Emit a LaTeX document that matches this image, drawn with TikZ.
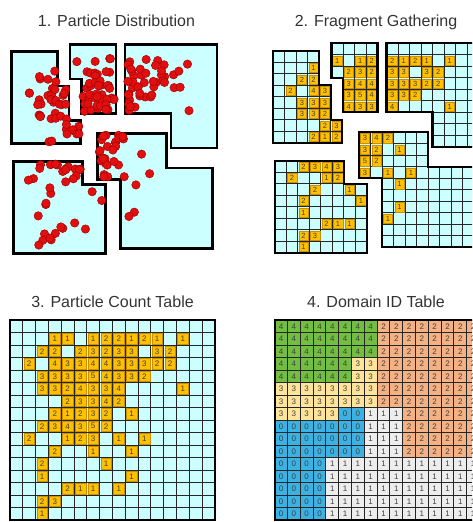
\documentclass[tikz,border=0pt]{standalone}
\usepackage{fontspec}
\setmainfont{Liberation Sans}
\usetikzlibrary{positioning}

\definecolor{sea}{HTML}{CCFFFF}
\definecolor{hit}{HTML}{FFC000}
\definecolor{hitedge}{HTML}{C98F00}
\definecolor{dotred}{HTML}{E01010}
\definecolor{dotedge}{HTML}{A80000}
\definecolor{dom0}{HTML}{3AB2E4}
\definecolor{dom1}{HTML}{EDEDED}
\definecolor{dom2}{HTML}{F4B183}
\definecolor{dom3}{HTML}{FFE49A}
\definecolor{dom4}{HTML}{72BE40}

% particle counts: row/col/count/fragment
\def\counts{1/3/1/A, 1/4/1/B, 1/6/1/B, 1/7/2/B, 1/8/2/C, 1/9/1/C, 1/10/2/C, 1/11/1/C, 1/13/1/C,
  2/2/2/A, 2/3/2/A, 2/5/2/B, 2/6/3/B, 2/7/2/B, 2/8/3/C, 2/9/3/C, 2/11/3/C, 2/12/2/C,
  3/1/2/A, 3/3/4/A, 3/4/3/A, 3/5/3/B, 3/6/4/B, 3/7/4/B, 3/8/3/C, 3/9/3/C, 3/10/3/C, 3/11/2/C, 3/12/2/C,
  4/2/3/A, 4/3/3/A, 4/4/3/A, 4/5/3/B, 4/6/5/B, 4/7/4/B, 4/8/3/C, 4/9/3/C, 4/10/2/C,
  5/2/3/A, 5/3/3/A, 5/4/2/A, 5/5/4/B, 5/6/3/B, 5/7/3/B, 5/8/4/C, 5/13/1/C,
  6/4/2/A, 6/5/3/A, 6/6/3/D, 6/7/4/D, 6/8/2/D,
  7/3/2/A, 7/4/1/A, 7/5/2/A, 7/6/3/D, 7/7/2/D, 7/9/1/D,
  8/2/2/E, 8/3/3/E, 8/4/4/E, 8/5/3/E, 8/6/5/D, 8/7/2/D,
  9/1/2/E, 9/4/1/E, 9/5/2/E, 9/6/3/D, 9/8/1/D, 9/10/1/D,
  10/3/2/E, 10/6/1/E, 10/9/1/D, 11/2/2/E, 11/7/1/E, 12/2/1/E, 12/9/1/D,
  13/4/2/E, 13/5/1/E, 13/6/1/E, 13/8/1/D, 14/2/2/E, 14/3/3/E, 15/2/1/E}

% fragment outlines in cells
\def\frags{A/{(0,0) -| (4,3) -| (5,6) -| (6,8) -- (0,8) -- cycle},
  B/{(4,0) -- (8,0) -- (8,6) -- (5,6) |- (4,3) -- cycle},
  C/{(8,0) -- (16,0) -- (16,9) -- (12,9) |- (8,6) -- cycle},
  D/{(6,6) -| (12,9) -| (16,16) -- (8,16) |- (6,10) -- cycle},
  E/{(0,8) -| (6,10) -| (8,16) -- (0,16) -- cycle}}

% 16x16 cell lines
\newcommand\cellgrid{\foreach \i in {0,...,16} {\draw[lines] (\i,0) -- (\i,16); \draw[lines] (0,\i) -- (16,\i);}}

\begin{document}
\begin{tikzpicture}[x=1pt, y=-1pt,
    title/.style={font=\fontsize{16}{19}\selectfont, text=black!80, anchor=base},
    frag/.style={line width=2.5pt, line join=miter},
    lines/.style={line width=1pt, draw=black!85},
    count/.style={fill=hit, draw=hitedge, line width=0.4pt, inner sep=0pt,
      font=\fontsize{8}{8}\selectfont, text=black!75},
    idnum/.style={inner sep=0pt, font=\fontsize{8}{8}\selectfont, text=black!75},
    particle/.style={fill=dotred, draw=dotedge, line width=0.5pt}]
  \useasboundingbox (0,0) rectangle (472,522);
  \clip (0,0) rectangle (472,522);

  \node[title] (t1) at (116.5,26) {1. Particle Distribution};
  \node[title] (t2) at (376,26) {2. Fragment Gathering};
  \node[title] (t3) at (112.5,307) {3. Particle Count Table};
  \node[title] (t4) at (376,307) {4. Domain ID Table};

  % where cell (0,0) of each fragment sits, in panels 1 and 2
  \foreach \f/\px/\py in {A/11.7/51.7, B/24/44.3, C/33/44.3, D/28.7/64.3, E/13.3/69.7} {
    \coordinate (\f1) at (\px,\py);
    \coordinate (\f2) at (\px+261.5,\py-1);
  }

  % 1. particles
  \foreach \f/\outline in \frags
    \draw[frag, fill=sea, shift={(\f1)}, x=11.5pt, y=-11.5pt] \outline;
  \pgfmathsetseed{41}
  \foreach \r/\c/\n/\f in \counts
    \foreach \k in {1,...,\n}
      \filldraw[particle, shift={(\f1)}] (\c*11.5+1.5+8.5*rnd, \r*11.5+1.5+8.5*rnd) circle[radius=4.2pt];

  % 2. fragments
  \begin{scope}[x=11.5pt, y=-11.5pt]
    \foreach \f/\outline in \frags {
      \begin{scope}[shift={(\f2)}]
        \fill[sea] \outline;
        \begin{scope}
          \clip \outline;
          \cellgrid
        \end{scope}
      \end{scope}
    }
    \foreach \r/\c/\n/\f in \counts {
      \begin{scope}[shift={(\f2)}]
        \node[count, minimum size=9.4pt, font=\fontsize{7.5}{8}\selectfont] (g\r-\c) at (\c+.5,\r+.5) {\n};
      \end{scope}
    }
    \foreach \f/\outline in \frags
      \draw[frag, line width=2.2pt, shift={(\f2)}] \outline;
  \end{scope}

  % 3. count table
  \begin{scope}[shift={(10,320)}, x=12.8pt, y=-12.5pt]
    \fill[sea] (0,0) rectangle (16,16);
    \cellgrid
    \foreach \r/\c/\n/\f in \counts
      \node[count, minimum width=10.6pt, minimum height=10.3pt] (p\r-\c) at (\c+.5,\r+.5) {\n};
    \draw[line width=1.8pt] (0,0) rectangle (16,16);
  \end{scope}

  % 4. domain ids: id/first col/last col/first row/last row
  \begin{scope}[shift={(274.7,320)}, x=12.8pt, y=-12.5pt]
    \foreach \d/\ca/\cb/\ra/\rb in {4/0/7/0/2, 4/0/5/3/4, 3/6/7/3/4, 3/0/7/5/6, 3/0/4/7/7,
        2/8/15/0/6, 2/10/15/7/10, 0/5/6/7/7, 0/0/6/8/10, 0/0/3/11/15, 1/7/9/7/10, 1/4/15/11/15} {
      \fill[fill=dom\d] (\ca,\ra) rectangle (\cb+1,\rb+1);
      \foreach \c in {\ca,...,\cb}
        \foreach \r in {\ra,...,\rb}
          \node[idnum] (d\r-\c) at (\c+.5,\r+.5) {\d};
    }
    \cellgrid
    \draw[line width=1.8pt] (0,0) rectangle (16,16);
  \end{scope}
\end{tikzpicture}
\end{document}
